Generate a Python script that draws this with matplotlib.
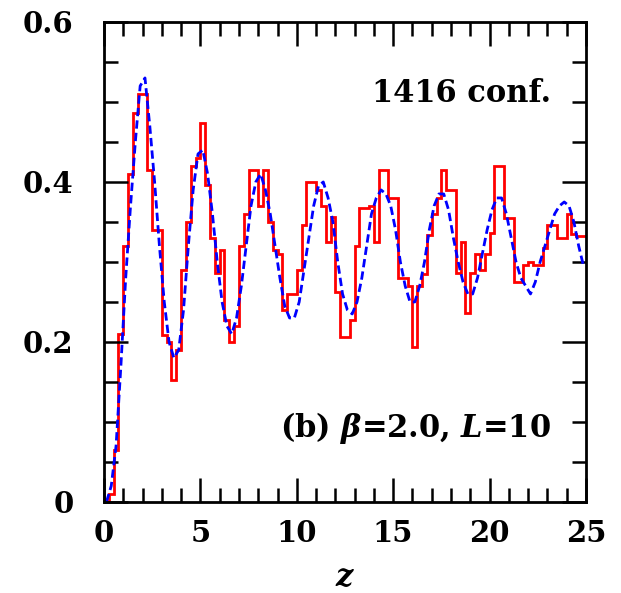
import numpy as np
import matplotlib
matplotlib.use("Agg")
import matplotlib.pyplot as plt

# bins of width 0.25 on 0..25
edges = np.arange(0, 25.01, 0.25)
centers = 0.5 * (edges[:-1] + edges[1:])

# red histogram (measured)
g_red = [0.0, 0.01, 0.065, 0.21, 0.32, 0.41, 0.486, 0.51, 0.51, 0.415,
         0.34, 0.34, 0.209, 0.20, 0.152, 0.19, 0.29, 0.35, 0.42, 0.43,
         0.474, 0.396, 0.33, 0.286, 0.315, 0.227, 0.20, 0.22, 0.32, 0.36,
         0.415, 0.415, 0.37, 0.415, 0.35, 0.315, 0.31, 0.24, 0.26, 0.26,
         0.29, 0.346, 0.40, 0.40, 0.39, 0.37, 0.325, 0.356, 0.262, 0.206,
         0.206, 0.227, 0.32, 0.367, 0.367, 0.37, 0.325, 0.415, 0.415, 0.38,
         0.38, 0.28, 0.28, 0.27, 0.194, 0.27, 0.285, 0.334, 0.36, 0.38,
         0.415, 0.39, 0.39, 0.286, 0.325, 0.236, 0.286, 0.31, 0.29, 0.31,
         0.336, 0.42, 0.42, 0.355, 0.355, 0.275, 0.275, 0.296, 0.30, 0.296,
         0.296, 0.318, 0.346, 0.346, 0.33, 0.33, 0.36, 0.335, 0.333, 0.333]

# blue dashed curve (measured)
g_blue = [0.0, 0.02, 0.07, 0.17, 0.28, 0.37, 0.45, 0.52, 0.53, 0.47,
          0.40, 0.32, 0.25, 0.20, 0.18, 0.19, 0.24, 0.32, 0.39, 0.435,
          0.44, 0.41, 0.36, 0.30, 0.25, 0.22, 0.21, 0.23, 0.27, 0.32,
          0.37, 0.40, 0.41, 0.39, 0.36, 0.32, 0.28, 0.245, 0.23, 0.23,
          0.25, 0.29, 0.33, 0.37, 0.395, 0.40, 0.38, 0.35, 0.30, 0.26,
          0.24, 0.235, 0.25, 0.28, 0.32, 0.36, 0.38, 0.39, 0.385, 0.37,
          0.34, 0.30, 0.27, 0.25, 0.25, 0.27, 0.30, 0.34, 0.37, 0.385,
          0.385, 0.365, 0.33, 0.30, 0.275, 0.26, 0.26, 0.28, 0.31, 0.34,
          0.365, 0.38, 0.38, 0.36, 0.33, 0.30, 0.28, 0.27, 0.26, 0.275,
          0.30, 0.32, 0.34, 0.36, 0.37, 0.375, 0.37, 0.35, 0.32, 0.295]

plt.rcParams['font.family'] = 'DejaVu Serif'
plt.rcParams['font.weight'] = 'bold'
plt.rcParams['mathtext.fontset'] = 'dejavuserif'

fig = plt.figure(figsize=(6.21, 5.93), dpi=100)
ax = fig.add_axes([0.1675, 0.1535, 0.776, 0.8095])

ax.stairs(g_red, edges, baseline=None, color='red', lw=2.0)
ax.plot(centers, g_blue, color='blue', lw=2.0, linestyle=(0, (3, 1.5)))

ax.set_xlim(0, 25)
ax.set_ylim(0, 0.6)
ax.set_xticks([0, 5, 10, 15, 20, 25])
ax.set_xticks(np.arange(0, 25.1, 1), minor=True)
ax.set_yticks([0, 0.2, 0.4, 0.6])
ax.set_yticklabels(['0', '0.2', '0.4', '0.6'])
ax.set_yticks(np.arange(0, 0.61, 0.05), minor=True)
ax.tick_params(which='both', direction='in', top=True, right=True,
               width=1.8, labelsize=21)
ax.tick_params(axis='y', pad=22)
ax.tick_params(axis='x', pad=12)
ax.tick_params(which='major', length=17)
ax.tick_params(which='minor', length=10)
for s in ax.spines.values():
    s.set_linewidth(2.0)

ax.set_xlabel('$z$', fontsize=22, labelpad=10)

ax.text(23.2, 0.511, '1416 conf.', fontsize=22, ha='right', va='center')
ax.text(23.2, 0.0925, r'(b) $\beta$=2.0, $L$=10', fontsize=22,
        ha='right', va='center')

fig.savefig('out.png', dpi=100)
